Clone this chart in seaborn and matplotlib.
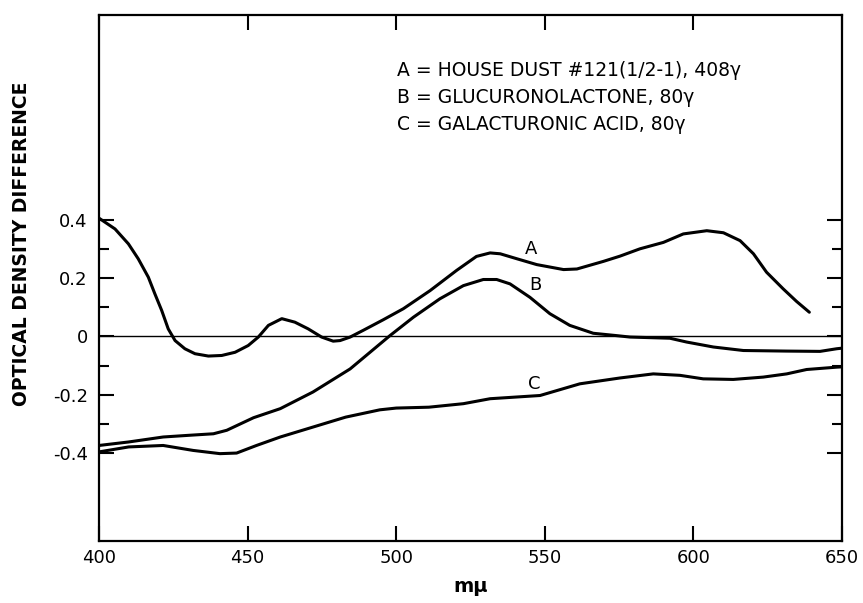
import numpy as np
import pandas as pd
import matplotlib
matplotlib.use("Agg")
import matplotlib.pyplot as plt
import seaborn as sns

# ---- data ----
wl_a = [400, 405.4, 409.9, 413.2, 416.6, 418.8, 421.1, 423.3, 425.6, 428.9, 432.3, 436.8,
        441.3, 445.8, 450.2, 453.6, 457, 461.5, 465.9, 470.4, 474.9, 478.8, 481.1, 484.5,
        488.9, 495.6, 502.4, 511.4, 520.3, 527, 531.6, 535, 540.6, 547.3, 556.3, 560.8,
        569.7, 575.3, 582, 589.9, 596.6, 604.5, 610.1, 615.7, 620.2, 624.6, 630.2, 634.7,
        639]
od_a = [0.405, 0.368, 0.317, 0.266, 0.203, 0.146, 0.089, 0.026, -0.014, -0.042, -0.059,
        -0.067, -0.065, -0.054, -0.031, -0.002, 0.038, 0.061, 0.049, 0.026, -0.002, -0.016,
        -0.014, -0.002, 0.021, 0.057, 0.095, 0.157, 0.226, 0.274, 0.286, 0.283, 0.266,
        0.246, 0.229, 0.231, 0.257, 0.275, 0.300, 0.322, 0.351, 0.362, 0.355, 0.328, 0.283,
        0.220, 0.163, 0.120, 0.083]

wl_b = [400, 410, 421.6, 430.6, 438.5, 443, 452, 461, 472, 484.5, 491.2, 497.9, 505.8,
        514.7, 522.6, 529.3, 533.8, 538.3, 545, 551.7, 558.4, 566.3, 574.1, 578.7, 592.1,
        597.7, 606.7, 616.8, 631.4, 642.6, 648.2, 650]
od_b = [-0.373, -0.361, -0.344, -0.338, -0.333, -0.321, -0.278, -0.247, -0.19, -0.111,
        -0.054, 0.003, 0.066, 0.129, 0.174, 0.195, 0.195, 0.180, 0.134, 0.078, 0.038,
        0.011, 0.003, -0.002, -0.006, -0.019, -0.036, -0.048, -0.050, -0.051, -0.042, -0.04]

wl_c = [400, 410, 421.6, 431.7, 440.7, 446.3, 453, 461, 472, 483, 494.5, 500, 511, 522.6,
        531.6, 548.4, 561.8, 575.3, 586.5, 595.5, 603.3, 613.4, 623.5, 631.4, 638.1, 648.2,
        650]
od_c = [-0.395, -0.378, -0.373, -0.39, -0.401, -0.399, -0.373, -0.344, -0.31, -0.276,
        -0.251, -0.245, -0.242, -0.23, -0.213, -0.202, -0.162, -0.142, -0.128, -0.133,
        -0.145, -0.147, -0.139, -0.128, -0.113, -0.105, -0.104]

curve_names = ["A", "B", "C"]
legend_lines = ["A = HOUSE DUST #121(1/2-1), 408γ",
                "B = GLUCURONOLACTONE, 80γ",
                "C = GALACTURONIC ACID, 80γ"]
x_ticks = [400, 450, 500, 550, 600, 650]
y_ticks = [-0.4, -0.2, 0, 0.2, 0.4]
y_tick_labels = ["-0.4", "-0.2", "0", "0.2", "0.4"]

sns.set_style("ticks")
plt.rcParams["font.family"] = ["DejaVu Sans"]
plt.rcParams["text.color"] = "black"
plt.rcParams["axes.labelcolor"] = "black"
plt.rcParams["xtick.color"] = "black"
plt.rcParams["ytick.color"] = "black"

df = pd.concat([
    pd.DataFrame({"wl": wl_a, "od": od_a, "curve": "A"}),
    pd.DataFrame({"wl": wl_b, "od": od_b, "curve": "B"}),
    pd.DataFrame({"wl": wl_c, "od": od_c, "curve": "C"}),
])

fig = plt.figure(figsize=(8.63, 6.03), dpi=100)
ax = fig.add_axes([0.1147, 0.1028, 0.861, 0.8722])

for name in curve_names:
    sns.lineplot(data=df[df["curve"] == name], x="wl", y="od", ax=ax,
                 color="black", linewidth=2.2, estimator=None, sort=False,
                 legend=False)

ax.axhline(0, color="black", linewidth=1.0)

ax.set_xlim(400, 650)
ax.set_ylim(-0.7, 1.1)
ax.set_xticks(x_ticks)
ax.set_xticklabels([str(t) for t in x_ticks], fontsize=13, color="black")
ax.set_yticks(y_ticks)
ax.set_yticklabels(y_tick_labels, fontsize=13, color="black")
ax.set_yticks([-0.3, -0.1, 0.1, 0.3], minor=True)

ax.tick_params(axis="both", which="major", direction="in", length=11, width=1.5,
               top=True, right=True, pad=8, colors="black")
ax.tick_params(axis="y", which="minor", direction="in", length=7, width=1.5,
               left=True, right=True, colors="black")
ax.tick_params(axis="x", which="major", pad=6)
for s in ax.spines.values():
    s.set_linewidth(1.6)
    s.set_color("black")

ax.set_xlabel("mμ", fontsize=14, fontweight="bold", color="black")
ax.xaxis.set_label_coords(0.5, -0.068)
ax.set_ylabel("OPTICAL DENSITY DIFFERENCE", fontsize=13.5, fontweight="bold",
              color="black")
ax.yaxis.set_label_coords(-0.092, 0.565)

# curve labels
ax.text(545.3, 0.30, "A", fontsize=13, ha="center", va="center", color="black")
ax.text(546.7, 0.176, "B", fontsize=13, ha="center", va="center", color="black")
ax.text(546.5, -0.162, "C", fontsize=13, ha="center", va="center", color="black")

for i, line in enumerate(legend_lines):
    ax.text(500.3, 0.909 - 0.092 * i, line, fontsize=13.5, ha="left", va="center",
            color="black")

fig.savefig("out.png", dpi=100)
